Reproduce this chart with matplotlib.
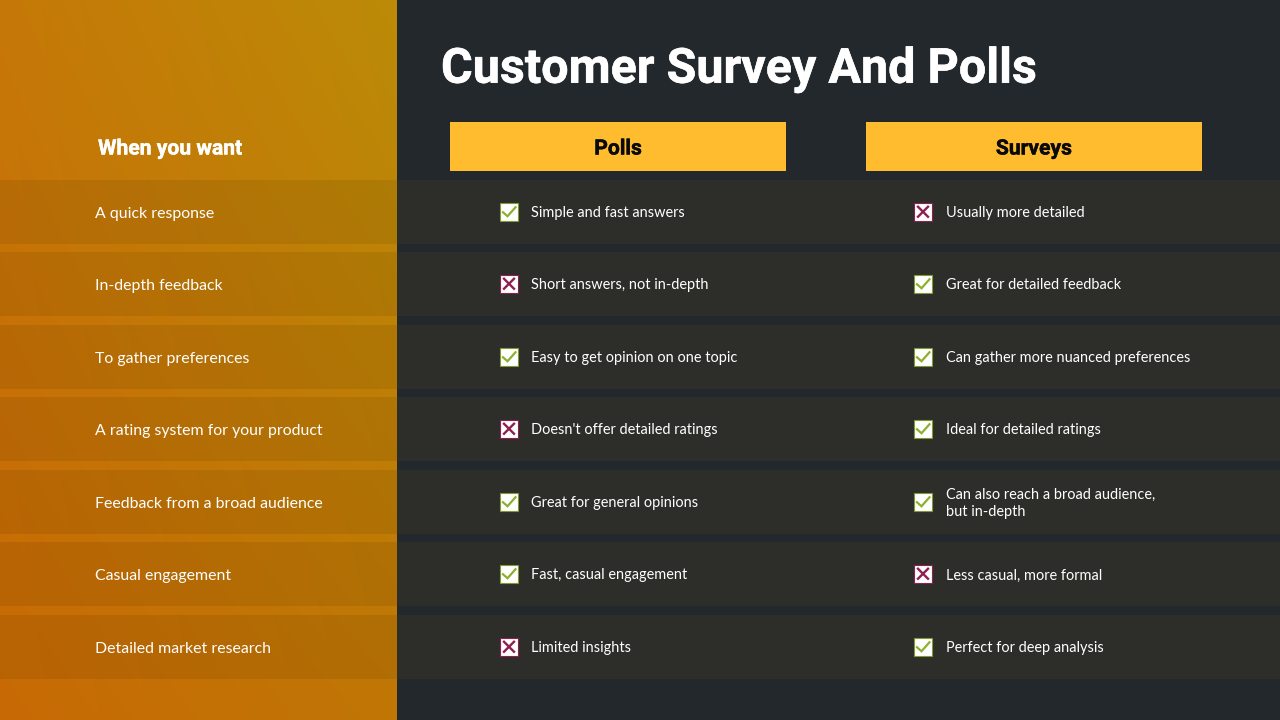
import numpy as np
import matplotlib
matplotlib.use("Agg")
import matplotlib.pyplot as plt
import matplotlib.patheffects as pe
from matplotlib.patches import Rectangle

title = "Customer Survey And Polls"
row_header = "When you want"
col_headers = ["Polls", "Surveys"]

wants = ["A quick response", "In-depth feedback", "To gather preferences",
         "A rating system for your product", "Feedback from a broad audience",
         "Casual engagement", "Detailed market research"]
polls_text = ["Simple and fast answers", "Short answers, not in-depth",
              "Easy to get opinion on one topic", "Doesn't offer detailed ratings",
              "Great for general opinions", "Fast, casual engagement", "Limited insights"]
surveys_text = ["Usually more detailed", "Great for detailed feedback",
                "Can gather more nuanced preferences", "Ideal for detailed ratings",
                "Can also reach a broad audience,\nbut in-depth", "Less casual, more formal",
                "Perfect for deep analysis"]
polls_ok = [True, False, True, False, True, True, False]
surveys_ok = [False, True, True, True, True, False, True]

band_tops = [180, 252, 325, 397, 470, 542, 615]
band_h = 64

fig = plt.figure(figsize=(12.8, 7.2), dpi=100)
ax = fig.add_axes([0, 0, 1, 1])

ax.add_patch(Rectangle((0, 0), 1280, 720, color="#22282C", lw=0, zorder=0))

# orange panel, colours taken from its four corners
tl = np.array([198, 120, 8]) / 255
tr = np.array([188, 139, 8]) / 255
bl = np.array([200, 106, 5]) / 255
br = np.array([192, 118, 5]) / 255
gx, gy = np.meshgrid(np.linspace(0, 1, 200), np.linspace(0, 1, 360))
gx = gx[..., None]
gy = gy[..., None]
img = (tl * (1 - gx) + tr * gx) * (1 - gy) + (bl * (1 - gx) + br * gx) * gy
ax.imshow(img, extent=(0, 397, 720, 0), aspect="auto", zorder=1, interpolation="bilinear")
ax.set_xlim(0, 1280)
ax.set_ylim(720, 0)
ax.axis("off")

body = dict(family="Lato", color="white", va="center", zorder=4)


def draw_box(x, y, ok):
    edge = "#7F9A2E" if ok else "#8E1F4F"
    ax.add_patch(Rectangle((x - 9, y - 9), 18, 18, fc="white", ec=edge, lw=0.8, zorder=4))
    if ok:
        ax.plot([x - 6, x - 1.5, x + 6.5], [y + 0.5, y + 4.5, y - 4.5], color="#8DB02F", lw=1.6,
                solid_joinstyle="miter", zorder=5)
    else:
        ax.plot([x - 5, x + 5], [y - 5, y + 5], color="#8E1F4F", lw=1.7, zorder=5)
        ax.plot([x - 5, x + 5], [y + 5, y - 5], color="#8E1F4F", lw=1.7, zorder=5)


for i, top in enumerate(band_tops):
    ax.add_patch(Rectangle((0, top), 397, band_h, fc="black", alpha=0.075, lw=0, zorder=2))
    ax.add_patch(Rectangle((397, top), 883, band_h, fc="#2D2D2A", lw=0, zorder=2))
    mid = top + 32.25
    ax.text(95, mid + 1.7, wants[i], fontsize=11.45, **body)
    draw_box(509, mid - 0.5, polls_ok[i])
    ax.text(531, mid + 1.2, polls_text[i], fontsize=10.45, **body)
    draw_box(923, mid - 0.5, surveys_ok[i])
    ax.text(946, mid + 1.2, surveys_text[i], fontsize=10.45, linespacing=1.35, **body)

ax.text(441, 70, title, family="Roboto", weight="bold", fontsize=34.9, color="white", va="center",
        zorder=4, path_effects=[pe.withStroke(linewidth=0.4, foreground="white")])
ax.text(98, 149, row_header, family="Roboto", weight="bold", fontsize=15.2, color="white", va="center",
        zorder=4, path_effects=[pe.withStroke(linewidth=0.3, foreground="white")])

for x, name in zip([450, 866], col_headers):
    ax.add_patch(Rectangle((x, 122), 336, 49, fc="#FFBC2E", lw=0, zorder=3))
    ax.text(x + 168, 149, name, family="Roboto", weight="bold", fontsize=15.2, color="#0A0A0A",
            ha="center", va="center", zorder=4,
            path_effects=[pe.withStroke(linewidth=0.3, foreground="#0A0A0A")])

fig.savefig("out.png", dpi=100)
